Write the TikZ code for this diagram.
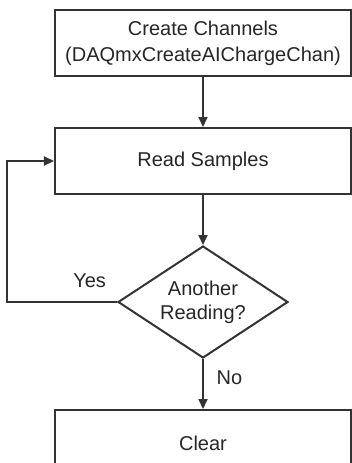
\documentclass[tikz,border=0pt]{standalone}
\usepackage{fontspec}
\setmainfont{Liberation Sans}
\usetikzlibrary{arrows.meta,shapes.geometric,positioning}
\colorlet{Frame}{black!80}
\colorlet{Ink}{black!85}

\begin{document}
\begin{tikzpicture}[
    stepbox/.style={draw=Frame, line width=1pt, rectangle, minimum width=148pt, minimum height=33pt, align=center, text=Ink},
    decision/.style={draw=Frame, line width=1pt, diamond, aspect=1.5, inner sep=0pt, minimum width=85pt, minimum height=56pt, align=center, text=Ink, font={\fontsize{10pt}{12pt}\selectfont}},
    every node/.style={font={\fontsize{10pt}{13pt}\selectfont}},
    flow/.style={-{Triangle[length=5pt,width=4.5pt]}, draw=Frame, line width=1pt},
    tag/.style={text=Ink}
    ]
    \useasboundingbox (0,0) rectangle (176pt,-231.5pt);
    \clip (0,0) rectangle (176pt,-231.5pt);

    \node [stepbox] (create) at (101.5pt,-21.5pt) {Create Channels\\(DAQmxCreateAIChargeChan)};
    \node [stepbox, below=25pt of create] (read) {Read Samples};
    \node [decision, below=25pt of read] (decision) {Another\\Reading?};
    \node [stepbox, below=25pt of decision] (clear) {Clear};
    \node [tag, above left=3.5pt and 2pt of decision.west] (yes) {Yes};

    \draw[flow] (create) -- (read);
    \draw[flow] (read) -- (decision);
    \draw[flow] (decision) -- node[tag, right=3pt, pos=0.38] (no) {No} (clear);
    \draw[flow] (decision.west) -- ++(-55pt,0) |- (read.west);
\end{tikzpicture}
\end{document}
